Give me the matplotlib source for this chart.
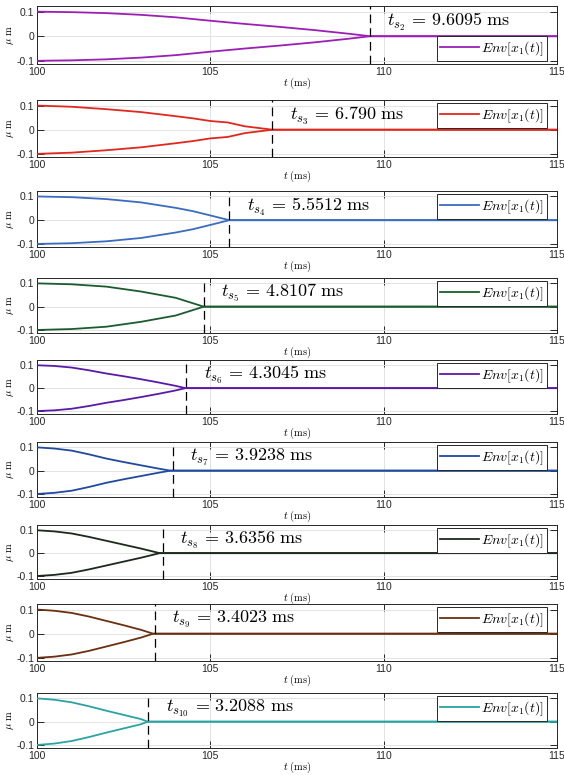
import matplotlib
matplotlib.use("Agg")
import matplotlib.pyplot as plt
from matplotlib.ticker import FixedLocator

plt.rcParams['mathtext.fontset'] = 'cm'
plt.rcParams['font.family'] = ['Liberation Sans', 'DejaVu Sans']

# ---- data ----
subscripts = ['2', '3', '4', '5', '6', '7', '8', '9', '10']
ts_labels = ['9.6095', '6.790', '5.5512', '4.8107', '4.3045', '3.9238', '3.6356', '3.4023', '3.2088']
ts_values = [9.6095, 6.790, 5.5512, 4.8107, 4.3045, 3.9238, 3.6356, 3.4023, 3.2088]
colors = ['#9b1fb4', '#e0281e', '#3a6cc0', '#1a5c2e', '#5a1aa8', '#1f4aa0', '#1b2a1b', '#6b2f10', '#2aa3a3']

env_t1 = [100, 101, 102, 103, 104, 105, 106, 107, 108, 109, 109.61, 115]
env_v1 = [0.100, 0.098, 0.094, 0.087, 0.077, 0.063, 0.050, 0.038, 0.025, 0.010, 0.0, 0.0]
env_t2 = [100, 101, 102, 103, 104, 104.5, 105, 105.5, 106, 106.4, 106.79, 115]
env_v2 = [0.100, 0.095, 0.085, 0.073, 0.056, 0.047, 0.036, 0.030, 0.014, 0.007, 0.0, 0.0]
env_t3 = [100, 101, 102, 103, 104, 104.5, 105, 105.55, 115]
env_v3 = [0.100, 0.097, 0.089, 0.075, 0.052, 0.038, 0.020, 0.0, 0.0]
env_t4 = [100, 101, 102, 103, 104, 104.81, 115]
env_v4 = [0.100, 0.096, 0.086, 0.065, 0.038, 0.0, 0.0]
env_t5 = [100, 100.5, 101, 101.5, 102, 102.5, 103, 103.5, 104, 104.28, 115]
env_v5 = [0.100, 0.097, 0.090, 0.078, 0.064, 0.052, 0.039, 0.025, 0.010, 0.0, 0.0]
env_t6 = [100, 100.5, 101, 101.5, 102, 102.5, 103, 103.5, 103.85, 115]
env_v6 = [0.100, 0.095, 0.086, 0.070, 0.052, 0.037, 0.023, 0.009, 0.0, 0.0]
env_t7 = [100, 100.5, 101, 101.5, 102, 102.5, 103, 103.54, 115]
env_v7 = [0.100, 0.095, 0.086, 0.071, 0.054, 0.037, 0.020, 0.0, 0.0]
env_t8 = [100, 100.5, 101, 101.5, 102, 102.5, 103, 103.35, 115]
env_v8 = [0.100, 0.095, 0.086, 0.071, 0.053, 0.035, 0.016, 0.0, 0.0]
env_t9 = [100, 100.5, 101, 101.5, 102, 102.5, 103, 103.19, 115]
env_v9 = [0.100, 0.094, 0.083, 0.066, 0.047, 0.029, 0.011, 0.0, 0.0]

env_t = [env_t1, env_t2, env_t3, env_t4, env_t5, env_t6, env_t7, env_t8, env_t9]
env_v = [env_v1, env_v2, env_v3, env_v4, env_v5, env_v6, env_v7, env_v8, env_v9]

x_ticks = [100, 105, 110, 115]
y_ticks = [-0.1, 0, 0.1]
y_ticklabels = ['-0.1', '0', '0.1']

# ---- layout (pixels) ----
W, H = 564, 775
fig = plt.figure(figsize=(W / 100, H / 100), dpi=100)
left_px, right_px = 37, 557
tops = [6, 100, 191, 278, 360, 442, 525, 604, 693]
bots = [64, 157, 247, 333, 414, 497, 579, 661, 748]

for i in range(9):
    ax = fig.add_axes([left_px / W, 1 - bots[i] / H, (right_px - left_px) / W, (bots[i] - tops[i]) / H])
    c = colors[i]
    t = env_t[i]
    v = env_v[i]
    neg = [-x for x in v]
    ax.plot(t, v, color=c, lw=1.3, label=r'$Env[x_1(t)]$', solid_joinstyle='round', zorder=3)
    ax.plot(t, neg, color=c, lw=1.3, solid_joinstyle='round', zorder=3)
    ts_abs = 100 + ts_values[i]
    ax.axvline(ts_abs, color='black', lw=0.9, dashes=(7, 4), zorder=4)
    ax.text(ts_abs + 0.5, 0.058, r'$t_{s_{%s}}\,=\,%s\ \mathrm{ms}$' % (subscripts[i], ts_labels[i]),
            fontsize=13, va='center', ha='left', zorder=5)

    ax.set_xlim(100, 115)
    ax.set_ylim(-0.113, 0.123)
    ax.xaxis.set_major_locator(FixedLocator(x_ticks))
    ax.set_yticks(y_ticks)
    ax.set_yticklabels(y_ticklabels)
    ax.grid(True, color='#e3e3e3', lw=0.7, zorder=0)
    ax.set_axisbelow(True)
    ax.tick_params(direction='in', top=True, right=True, length=5, width=0.7,
                   labelsize=7.5, colors='#262626', pad=2)
    for s in ax.spines.values():
        s.set_color('#262626')
        s.set_linewidth(0.7)
    ax.set_xlabel(r'$t\ (\mathrm{ms})$', fontsize=7.5, labelpad=-0.5)
    ax.set_ylabel(r'$\mu\ \mathrm{m}$', fontsize=7.5, labelpad=0)

    leg_kw = dict(borderaxespad=0, borderpad=0.22, handlelength=2.8, handletextpad=0.2,
                  fontsize=10, fancybox=False, framealpha=1)
    if i == 0:
        leg = ax.legend(loc='lower right', bbox_to_anchor=(0.981, 0.05), **leg_kw)
    else:
        leg = ax.legend(loc='upper right', bbox_to_anchor=(0.981, 0.945), **leg_kw)
    leg.get_frame().set_edgecolor('#262626')
    leg.get_frame().set_linewidth(0.7)
    leg.set_zorder(6)

fig.savefig('out.png', dpi=100)
